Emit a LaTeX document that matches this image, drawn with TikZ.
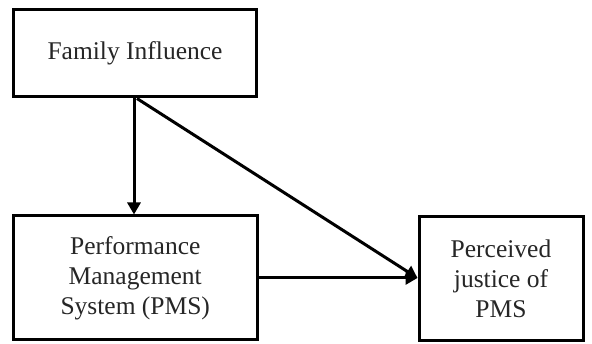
\documentclass[tikz,border=0pt]{standalone}
\usepackage{fontspec}
\setmainfont{Liberation Serif}
\usetikzlibrary{arrows.meta}
\begin{document}
\begin{tikzpicture}[x=1pt,y=-1pt,
  box/.style={draw=black, line width=3pt, fill=white, align=center,
    font=\fontsize{25.5}{30}\selectfont, text=black!85, inner sep=0pt},
  link/.style={line width=3pt, -{Triangle[length=12pt,width=13pt]}}]
\useasboundingbox (0,0) rectangle (592,344);
\node[box, minimum width=243pt, minimum height=87.5pt] (fi) at (135,53.25) {Family Influence};
\node[box, minimum width=243.5pt, minimum height=124pt] (pms) at (135.25,278) {Performance\\Management\\System (PMS)};
\node[box, minimum width=164pt, minimum height=124pt] (pj) at (501,279) {Perceived\\justice of\\PMS};
\draw[link] (fi.south -| 134,0) -- (pms.north -| 134,0);
\draw[link] (fi.south -| 137,0) -- (pj.west |- 0,278);
\draw[link] (pms.east |- 0,278) -- (pj.west |- 0,278);
\end{tikzpicture}
\end{document}
